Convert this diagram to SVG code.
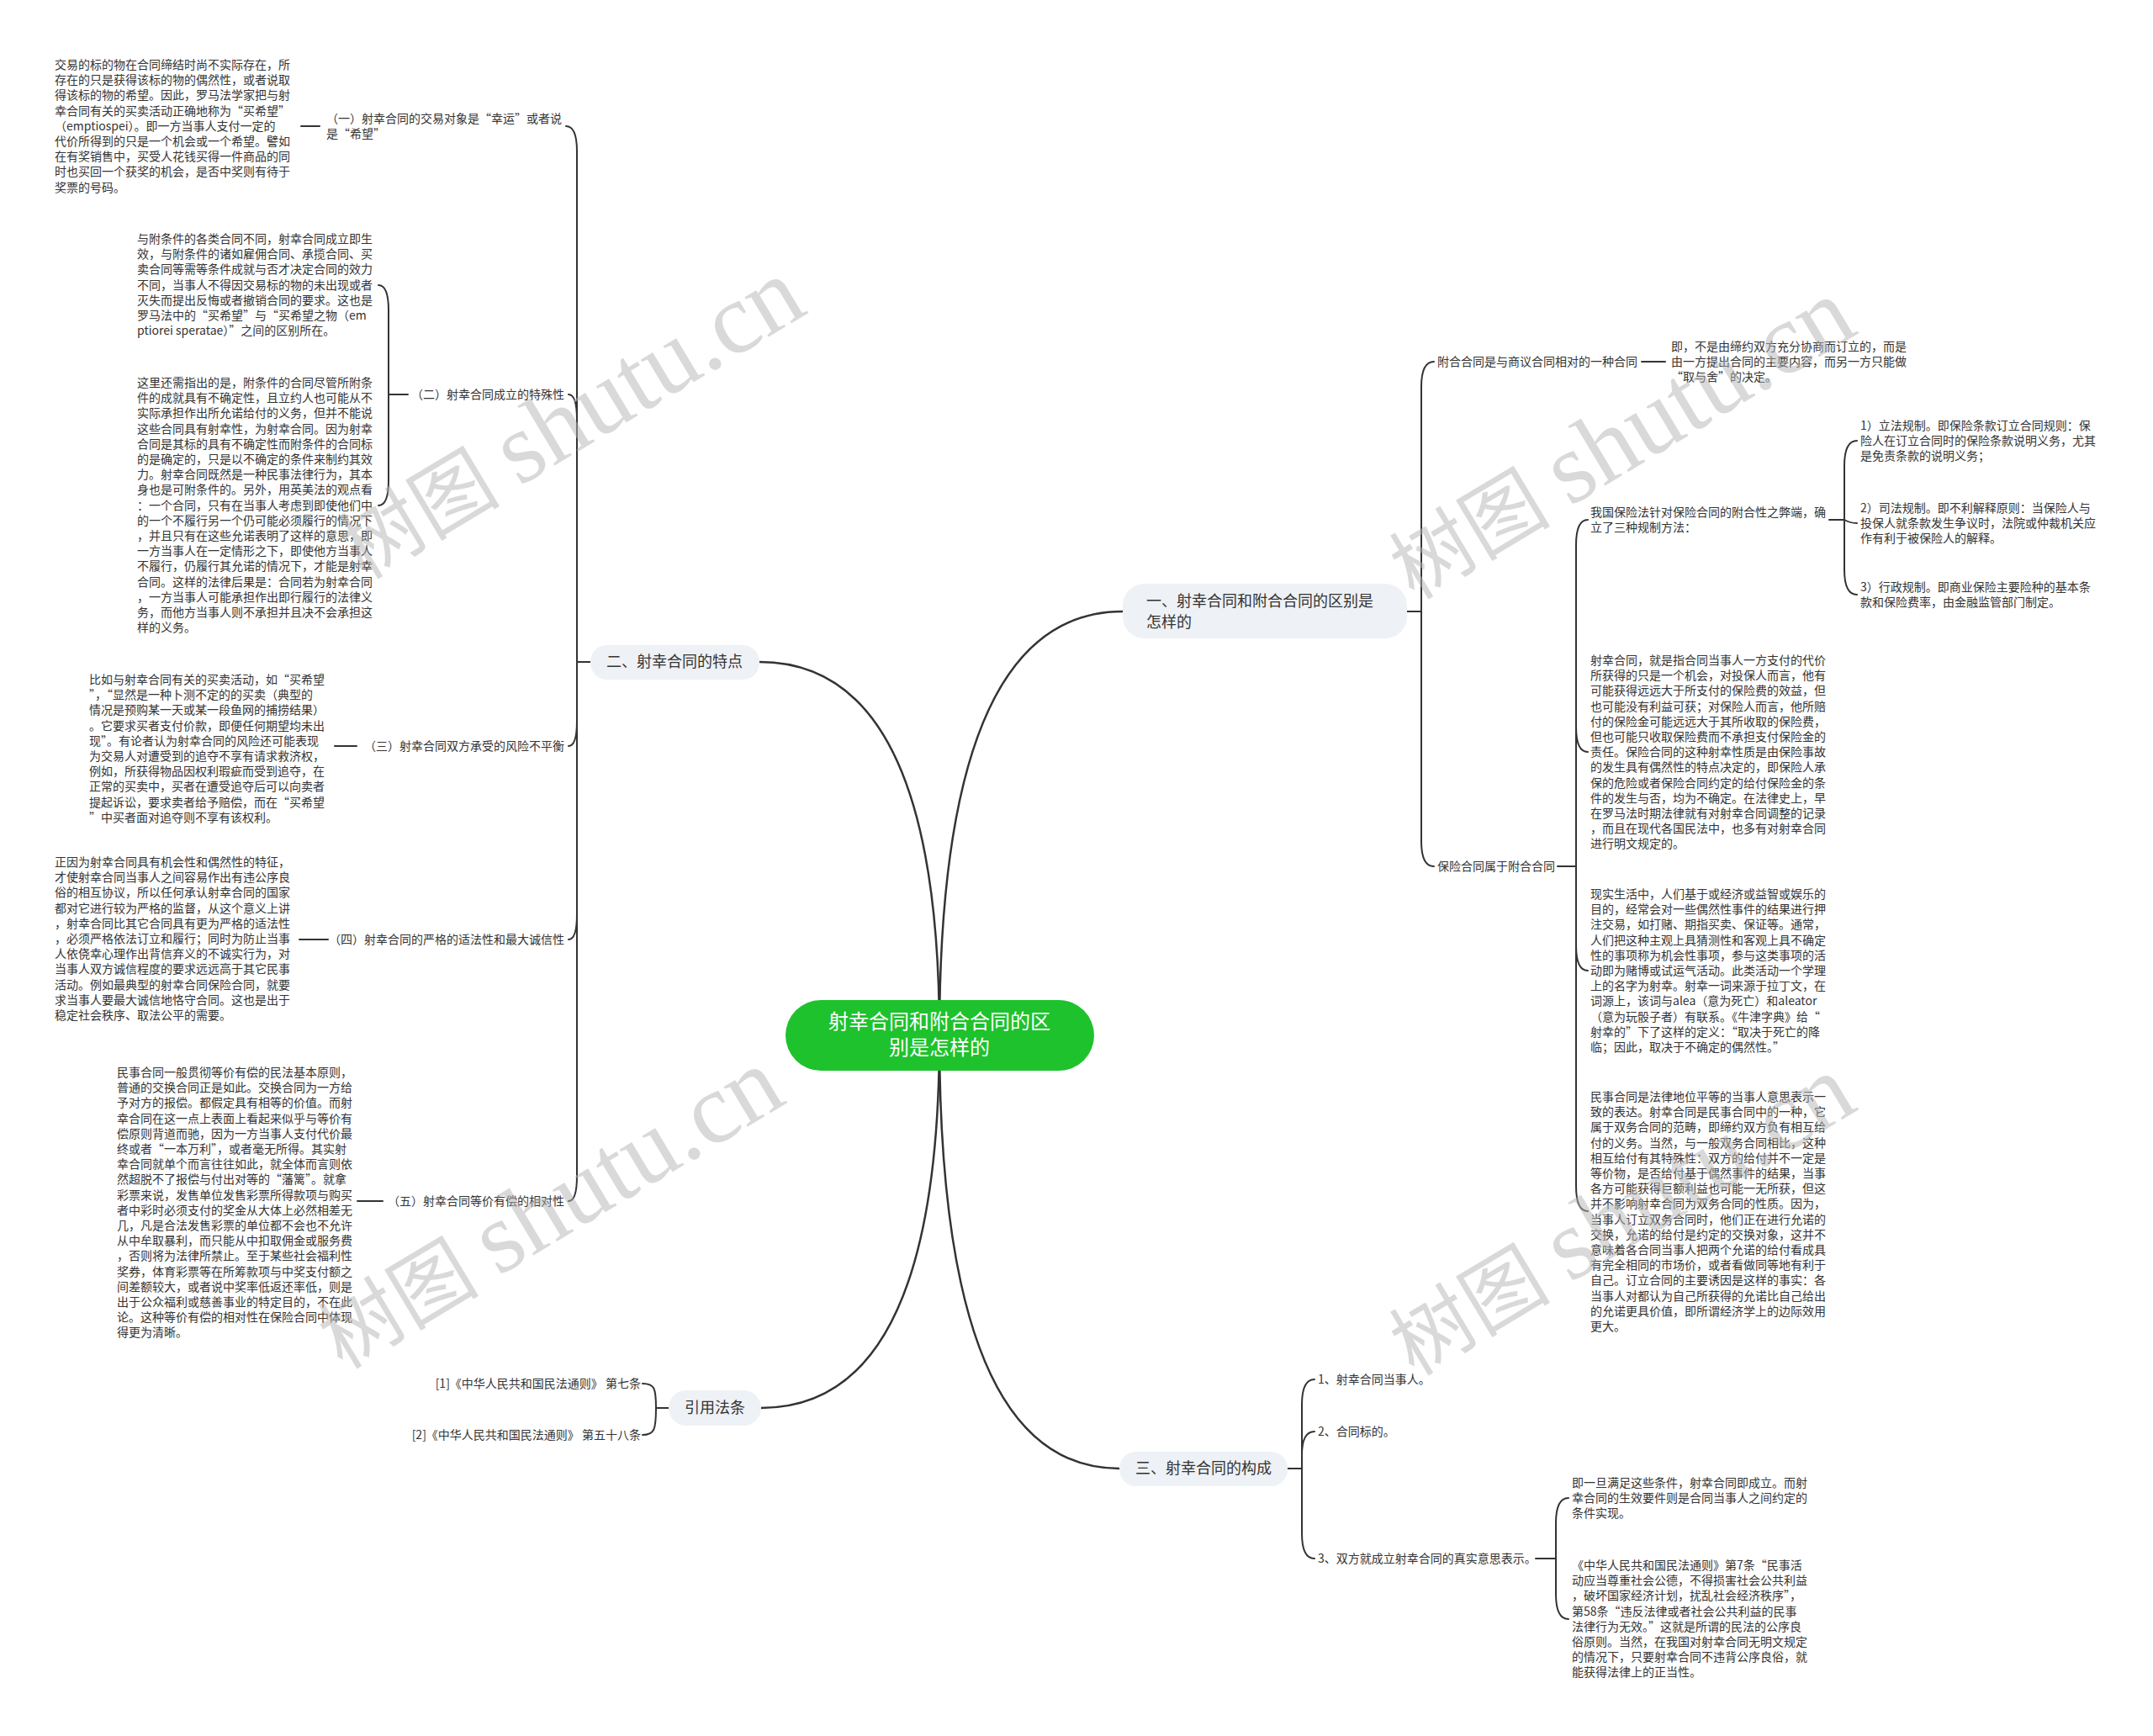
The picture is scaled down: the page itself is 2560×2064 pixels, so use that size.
<svg xmlns="http://www.w3.org/2000/svg" width="2560" height="2064" viewBox="0 0 2560 2064">
<style>
.t{font-family:"Noto Sans CJK SC","Noto Sans",sans-serif;font-size:14px;fill:#333}
.m{font-family:"Noto Sans CJK SC","Noto Sans",sans-serif;font-size:18px;fill:#333}
.r{font-family:"Noto Sans CJK SC","Noto Sans",sans-serif;font-size:24px;fill:#fff}
.nb{fill:#eef1f5}
.ln{fill:none;stroke:#333;stroke-width:2;stroke-linecap:round}
.lm{fill:none;stroke:#333;stroke-width:2.5}
.wm{font-family:"Liberation Serif","Noto Sans CJK SC",serif;fill:#b4b4b4;opacity:0.5}
</style>
<rect width="2560" height="2064" fill="#fff"/>
<g id="connectors">
<path class="lm" d="M1117,1231 Q1117,727 1335,727"/>
<path class="lm" d="M1117,1231 Q1117,787 903,787"/>
<path class="lm" d="M1117,1231 Q1117,1674 905,1674"/>
<path class="lm" d="M1117,1231 Q1117,1746 1331,1746"/>
<path class="ln" d="M702,787 H686 V180 Q686,150 673,150"/>
<path class="ln" d="M702,787 H686 V499 Q686,469 676,469"/>
<path class="ln" d="M702,787 H686 V857 Q686,887 676,887"/>
<path class="ln" d="M702,787 H686 V1087 Q686,1117 676,1117"/>
<path class="ln" d="M702,787 H686 V1398 Q686,1428 676,1428"/>
<path class="ln" d="M358,150 H380"/>
<path class="ln" d="M485,469 H462 V369 Q462,339 450,339"/>
<path class="ln" d="M462,469 V571 Q462,601 450,601"/>
<path class="ln" d="M398,887 H424"/>
<path class="ln" d="M356,1117 H390"/>
<path class="ln" d="M425,1428 H455"/>
<path class="ln" d="M795,1674 H780 C780,1650 778,1645 764,1645"/>
<path class="ln" d="M780,1674 C780,1700 778,1706 764,1706"/>
<path class="ln" d="M1673,727 H1690 V460 Q1690,430 1705,430"/>
<path class="ln" d="M1690,727 V1000 Q1690,1030 1705,1030"/>
<path class="ln" d="M1952,430 H1980"/>
<path class="ln" d="M1852,1030 H1874 V648 Q1874,618 1888,618"/>
<path class="ln" d="M1874,1030 V864 Q1874,894 1888,894"/>
<path class="ln" d="M1874,1030 V1124 Q1874,1154 1888,1154"/>
<path class="ln" d="M1874,1030 V1410 Q1874,1440 1888,1440"/>
<path class="ln" d="M2175,618 H2193 V554 Q2193,524 2208,524"/>
<path class="ln" d="M2193,618 Q2200,622 2208,622"/>
<path class="ln" d="M2193,618 V677 Q2193,707 2208,707"/>
<path class="ln" d="M1531,1746 H1548 V1670 Q1548,1640 1563,1640"/>
<path class="ln" d="M1548,1746 V1730 Q1548,1702 1563,1702"/>
<path class="ln" d="M1548,1746 V1823 Q1548,1853 1563,1853"/>
<path class="ln" d="M1826,1853 H1850 V1811 Q1850,1781 1865,1781"/>
<path class="ln" d="M1850,1853 V1895 Q1850,1925 1865,1925"/>
</g>
<g id="root">
<rect x="934" y="1189" width="367" height="84" rx="42" fill="#1ec22d"/>
<text class="r" text-anchor="middle"><tspan x="1117" y="1223">射幸合同和附合合同的区</tspan><tspan x="1117" y="1254">别是怎样的</tspan></text>
</g>
<g id="n1">
<rect class="nb" x="1335" y="694" width="338" height="65" rx="26"/>
<text class="m"><tspan x="1363" y="721">一、射幸合同和附合合同的区别是</tspan><tspan x="1363" y="746">怎样的</tspan></text>
</g>
<g id="n2">
<rect class="nb" x="702" y="767" width="201" height="41" rx="20"/>
<text class="m" x="802" y="793" text-anchor="middle">二、射幸合同的特点</text>
</g>
<g id="n3">
<rect class="nb" x="1331" y="1726" width="200" height="41" rx="20"/>
<text class="m" x="1431" y="1752" text-anchor="middle">三、射幸合同的构成</text>
</g>
<g id="n4">
<rect class="nb" x="795" y="1653" width="110" height="42" rx="21"/>
<text class="m" x="850" y="1680" text-anchor="middle">引用法条</text>
</g>
<g id="l1">
<text class="t"><tspan x="388" y="146">（一）射幸合同的交易对象是“幸运”或者说</tspan><tspan x="388" y="164">是“希望”</tspan></text>
</g>
<g id="b1">
<text class="t"><tspan x="65" y="82">交易的标的物在合同缔结时尚不实际存在，所</tspan><tspan x="65" dy="18.2">存在的只是获得该标的物的偶然性，或者说取</tspan><tspan x="65" dy="18.2">得该标的物的希望。因此，罗马法学家把与射</tspan><tspan x="65" dy="18.2">幸合同有关的买卖活动正确地称为“买希望”</tspan><tspan x="65" dy="18.2">（emptiospei）。即一方当事人支付一定的</tspan><tspan x="65" dy="18.2">代价所得到的只是一个机会或一个希望。譬如</tspan><tspan x="65" dy="18.2">在有奖销售中，买受人花钱买得一件商品的同</tspan><tspan x="65" dy="18.2">时也买回一个获奖的机会，是否中奖则有待于</tspan><tspan x="65" dy="18.2">奖票的号码。</tspan></text>
</g>
<g id="l2">
<text class="t" x="671" y="474" text-anchor="end">（二）射幸合同成立的特殊性</text>
</g>
<g id="b2">
<text class="t"><tspan x="163" y="289">与附条件的各类合同不同，射幸合同成立即生</tspan><tspan x="163" dy="18.2">效，与附条件的诸如雇佣合同、承揽合同、买</tspan><tspan x="163" dy="18.2">卖合同等需等条件成就与否才决定合同的效力</tspan><tspan x="163" dy="18.2">不同，当事人不得因交易标的物的未出现或者</tspan><tspan x="163" dy="18.2">灭失而提出反悔或者撤销合同的要求。这也是</tspan><tspan x="163" dy="18.2">罗马法中的“买希望”与“买希望之物（em</tspan><tspan x="163" dy="18.2">ptiorei speratae）”之间的区别所在。</tspan></text>
</g>
<g id="b3">
<text class="t"><tspan x="163" y="460">这里还需指出的是，附条件的合同尽管所附条</tspan><tspan x="163" dy="18.2">件的成就具有不确定性，且立约人也可能从不</tspan><tspan x="163" dy="18.2">实际承担作出所允诺给付的义务，但并不能说</tspan><tspan x="163" dy="18.2">这些合同具有射幸性，为射幸合同。因为射幸</tspan><tspan x="163" dy="18.2">合同是其标的具有不确定性而附条件的合同标</tspan><tspan x="163" dy="18.2">的是确定的，只是以不确定的条件来制约其效</tspan><tspan x="163" dy="18.2">力。射幸合同既然是一种民事法律行为，其本</tspan><tspan x="163" dy="18.2">身也是可附条件的。另外，用英美法的观点看</tspan><tspan x="163" dy="18.2">：一个合同，只有在当事人考虑到即使他们中</tspan><tspan x="163" dy="18.2">的一个不履行另一个仍可能必须履行的情况下</tspan><tspan x="163" dy="18.2">，并且只有在这些允诺表明了这样的意思，即</tspan><tspan x="163" dy="18.2">一方当事人在一定情形之下，即使他方当事人</tspan><tspan x="163" dy="18.2">不履行，仍履行其允诺的情况下，才能是射幸</tspan><tspan x="163" dy="18.2">合同。这样的法律后果是：合同若为射幸合同</tspan><tspan x="163" dy="18.2">，一方当事人可能承担作出即行履行的法律义</tspan><tspan x="163" dy="18.2">务，而他方当事人则不承担并且决不会承担这</tspan><tspan x="163" dy="18.2">样的义务。</tspan></text>
</g>
<g id="l3">
<text class="t" x="671" y="892" text-anchor="end">（三）射幸合同双方承受的风险不平衡</text>
</g>
<g id="b4">
<text class="t"><tspan x="106" y="813">比如与射幸合同有关的买卖活动，如“买希望</tspan><tspan x="106" dy="18.2">”，“显然是一种卜测不定的的买卖（典型的</tspan><tspan x="106" dy="18.2">情况是预购某一天或某一段鱼网的捕捞结果）</tspan><tspan x="106" dy="18.2">。它要求买者支付价款，即便任何期望均未出</tspan><tspan x="106" dy="18.2">现”。有论者认为射幸合同的风险还可能表现</tspan><tspan x="106" dy="18.2">为交易人对遭受到的追夺不享有请求救济权，</tspan><tspan x="106" dy="18.2">例如，所获得物品因权利瑕疵而受到追夺，在</tspan><tspan x="106" dy="18.2">正常的买卖中，买者在遭受追夺后可以向卖者</tspan><tspan x="106" dy="18.2">提起诉讼，要求卖者给予赔偿，而在“买希望</tspan><tspan x="106" dy="18.2">”中买者面对追夺则不享有该权利。</tspan></text>
</g>
<g id="l4">
<text class="t" x="671" y="1122" text-anchor="end">（四）射幸合同的严格的适法性和最大诚信性</text>
</g>
<g id="b5">
<text class="t"><tspan x="65" y="1030">正因为射幸合同具有机会性和偶然性的特征，</tspan><tspan x="65" dy="18.2">才使射幸合同当事人之间容易作出有违公序良</tspan><tspan x="65" dy="18.2">俗的相互协议，所以任何承认射幸合同的国家</tspan><tspan x="65" dy="18.2">都对它进行较为严格的监督，从这个意义上讲</tspan><tspan x="65" dy="18.2">，射幸合同比其它合同具有更为严格的适法性</tspan><tspan x="65" dy="18.2">，必须严格依法订立和履行；同时为防止当事</tspan><tspan x="65" dy="18.2">人依侥幸心理作出背信弃义的不诚实行为，对</tspan><tspan x="65" dy="18.2">当事人双方诚信程度的要求远远高于其它民事</tspan><tspan x="65" dy="18.2">活动。例如最典型的射幸合同保险合同，就要</tspan><tspan x="65" dy="18.2">求当事人要最大诚信地恪守合同。这也是出于</tspan><tspan x="65" dy="18.2">稳定社会秩序、取法公平的需要。</tspan></text>
</g>
<g id="l5">
<text class="t" x="671" y="1433" text-anchor="end">（五）射幸合同等价有偿的相对性</text>
</g>
<g id="b6">
<text class="t"><tspan x="139" y="1280">民事合同一般贯彻等价有偿的民法基本原则，</tspan><tspan x="139" dy="18.2">普通的交换合同正是如此。交换合同为一方给</tspan><tspan x="139" dy="18.2">予对方的报偿。都假定具有相等的价值。而射</tspan><tspan x="139" dy="18.2">幸合同在这一点上表面上看起来似乎与等价有</tspan><tspan x="139" dy="18.2">偿原则背道而驰，因为一方当事人支付代价最</tspan><tspan x="139" dy="18.2">终或者“一本万利”，或者毫无所得。其实射</tspan><tspan x="139" dy="18.2">幸合同就单个而言往往如此，就全体而言则依</tspan><tspan x="139" dy="18.2">然超脱不了报偿与付出对等的“藩篱”。就拿</tspan><tspan x="139" dy="18.2">彩票来说，发售单位发售彩票所得款项与购买</tspan><tspan x="139" dy="18.2">者中彩时必须支付的奖金从大体上必然相差无</tspan><tspan x="139" dy="18.2">几，凡是合法发售彩票的单位都不会也不允许</tspan><tspan x="139" dy="18.2">从中牟取暴利，而只能从中扣取佣金或服务费</tspan><tspan x="139" dy="18.2">，否则将为法律所禁止。至于某些社会福利性</tspan><tspan x="139" dy="18.2">奖券，体育彩票等在所筹款项与中奖支付额之</tspan><tspan x="139" dy="18.2">间差额较大，或者说中奖率低返还率低，则是</tspan><tspan x="139" dy="18.2">出于公众福利或慈善事业的特定目的，不在此</tspan><tspan x="139" dy="18.2">论。这种等价有偿的相对性在保险合同中体现</tspan><tspan x="139" dy="18.2">得更为清晰。</tspan></text>
</g>
<g id="ref1"><text class="t" x="762" y="1650" text-anchor="end">[1]《中华人民共和国民法通则》 第七条</text></g>
<g id="ref2"><text class="t" x="762" y="1711" text-anchor="end">[2]《中华人民共和国民法通则》 第五十八条</text></g>
<g id="r1">
<text class="t" x="1709" y="435">附合合同是与商议合同相对的一种合同</text>
</g>
<g id="r1a">
<text class="t"><tspan x="1987" y="417">即，不是由缔约双方充分协商而订立的，而是</tspan><tspan x="1987" dy="18.2">由一方提出合同的主要内容，而另一方只能做</tspan><tspan x="1987" dy="18.2">“取与舍”的决定。</tspan></text>
</g>
<g id="r2">
<text class="t" x="1709" y="1035">保险合同属于附合合同</text>
</g>
<g id="r2a">
<text class="t"><tspan x="1891" y="614">我国保险法针对保险合同的附合性之弊端，确</tspan><tspan x="1891" dy="18.2">立了三种规制方法：</tspan></text>
</g>
<g id="r2a1">
<text class="t"><tspan x="2212" y="511">1）立法规制。即保险条款订立合同规则：保</tspan><tspan x="2212" dy="18.2">险人在订立合同时的保险条款说明义务，尤其</tspan><tspan x="2212" dy="18.2">是免责条款的说明义务；</tspan></text>
</g>
<g id="r2a2">
<text class="t"><tspan x="2212" y="609">2）司法规制。即不利解释原则：当保险人与</tspan><tspan x="2212" dy="18.2">投保人就条款发生争议时，法院或仲裁机关应</tspan><tspan x="2212" dy="18.2">作有利于被保险人的解释。</tspan></text>
</g>
<g id="r2a3">
<text class="t"><tspan x="2212" y="703">3）行政规制。即商业保险主要险种的基本条</tspan><tspan x="2212" dy="18.2">款和保险费率，由金融监管部门制定。</tspan></text>
</g>
<g id="r2b">
<text class="t"><tspan x="1891" y="790">射幸合同，就是指合同当事人一方支付的代价</tspan><tspan x="1891" dy="18.2">所获得的只是一个机会，对投保人而言，他有</tspan><tspan x="1891" dy="18.2">可能获得远远大于所支付的保险费的效益，但</tspan><tspan x="1891" dy="18.2">也可能没有利益可获；对保险人而言，他所赔</tspan><tspan x="1891" dy="18.2">付的保险金可能远远大于其所收取的保险费，</tspan><tspan x="1891" dy="18.2">但也可能只收取保险费而不承担支付保险金的</tspan><tspan x="1891" dy="18.2">责任。保险合同的这种射幸性质是由保险事故</tspan><tspan x="1891" dy="18.2">的发生具有偶然性的特点决定的，即保险人承</tspan><tspan x="1891" dy="18.2">保的危险或者保险合同约定的给付保险金的条</tspan><tspan x="1891" dy="18.2">件的发生与否，均为不确定。在法律史上，早</tspan><tspan x="1891" dy="18.2">在罗马法时期法律就有对射幸合同调整的记录</tspan><tspan x="1891" dy="18.2">，而且在现代各国民法中，也多有对射幸合同</tspan><tspan x="1891" dy="18.2">进行明文规定的。</tspan></text>
</g>
<g id="r2c">
<text class="t"><tspan x="1891" y="1068">现实生活中，人们基于或经济或益智或娱乐的</tspan><tspan x="1891" dy="18.2">目的，经常会对一些偶然性事件的结果进行押</tspan><tspan x="1891" dy="18.2">注交易，如打赌、期指买卖、保证等。通常，</tspan><tspan x="1891" dy="18.2">人们把这种主观上具猜测性和客观上具不确定</tspan><tspan x="1891" dy="18.2">性的事项称为机会性事项，参与这类事项的活</tspan><tspan x="1891" dy="18.2">动即为赌博或试运气活动。此类活动一个学理</tspan><tspan x="1891" dy="18.2">上的名字为射幸。射幸一词来源于拉丁文，在</tspan><tspan x="1891" dy="18.2">词源上，该词与alea（意为死亡）和aleator</tspan><tspan x="1891" dy="18.2">（意为玩骰子者）有联系。《牛津字典》给“</tspan><tspan x="1891" dy="18.2">射幸的”下了这样的定义：“取决于死亡的降</tspan><tspan x="1891" dy="18.2">临；因此，取决于不确定的偶然性。”</tspan></text>
</g>
<g id="r2d">
<text class="t"><tspan x="1891" y="1309">民事合同是法律地位平等的当事人意思表示一</tspan><tspan x="1891" dy="18.2">致的表达。射幸合同是民事合同中的一种，它</tspan><tspan x="1891" dy="18.2">属于双务合同的范畴，即缔约双方负有相互给</tspan><tspan x="1891" dy="18.2">付的义务。当然，与一般双务合同相比，这种</tspan><tspan x="1891" dy="18.2">相互给付有其特殊性：双方的给付并不一定是</tspan><tspan x="1891" dy="18.2">等价物，是否给付基于偶然事件的结果，当事</tspan><tspan x="1891" dy="18.2">各方可能获得巨额利益也可能一无所获，但这</tspan><tspan x="1891" dy="18.2">并不影响射幸合同为双务合同的性质。因为，</tspan><tspan x="1891" dy="18.2">当事人订立双务合同时，他们正在进行允诺的</tspan><tspan x="1891" dy="18.2">交换，允诺的给付是约定的交换对象，这并不</tspan><tspan x="1891" dy="18.2">意味着各合同当事人把两个允诺的给付看成具</tspan><tspan x="1891" dy="18.2">有完全相同的市场价，或者看做同等地有利于</tspan><tspan x="1891" dy="18.2">自己。订立合同的主要诱因是这样的事实：各</tspan><tspan x="1891" dy="18.2">当事人对都认为自己所获得的允诺比自己给出</tspan><tspan x="1891" dy="18.2">的允诺更具价值，即所谓经济学上的边际效用</tspan><tspan x="1891" dy="18.2">更大。</tspan></text>
</g>
<g id="s1"><text class="t" x="1567" y="1645">1、射幸合同当事人。</text></g>
<g id="s2"><text class="t" x="1567" y="1707">2、合同标的。</text></g>
<g id="s3"><text class="t" x="1567" y="1858">3、双方就成立射幸合同的真实意思表示。</text></g>
<g id="s3a">
<text class="t"><tspan x="1869" y="1768">即一旦满足这些条件，射幸合同即成立。而射</tspan><tspan x="1869" dy="18.2">幸合同的生效要件则是合同当事人之间约定的</tspan><tspan x="1869" dy="18.2">条件实现。</tspan></text>
</g>
<g id="s3b">
<text class="t"><tspan x="1869" y="1866">《中华人民共和国民法通则》第7条“民事活</tspan><tspan x="1869" dy="18.2">动应当尊重社会公德，不得损害社会公共利益</tspan><tspan x="1869" dy="18.2">，破坏国家经济计划，扰乱社会经济秩序”，</tspan><tspan x="1869" dy="18.2">第58条“违反法律或者社会公共利益的民事</tspan><tspan x="1869" dy="18.2">法律行为无效。”这就是所谓的民法的公序良</tspan><tspan x="1869" dy="18.2">俗原则。当然，在我国对射幸合同无明文规定</tspan><tspan x="1869" dy="18.2">的情况下，只要射幸合同不违背公序良俗，就</tspan><tspan x="1869" dy="18.2">能获得法律上的正当性。</tspan></text>
</g>
<g id="watermarks">
<text class="wm" transform="translate(678,498) rotate(-31)" x="0" y="38" text-anchor="middle"><tspan font-size="96">树图 </tspan><tspan font-size="120">shutu.cn</tspan></text>
<text class="wm" transform="translate(1927,522) rotate(-31)" x="0" y="38" text-anchor="middle"><tspan font-size="96">树图 </tspan><tspan font-size="120">shutu.cn</tspan></text>
<text class="wm" transform="translate(653,1437) rotate(-31)" x="0" y="38" text-anchor="middle"><tspan font-size="96">树图 </tspan><tspan font-size="120">shutu.cn</tspan></text>
<text class="wm" transform="translate(1927,1445) rotate(-31)" x="0" y="38" text-anchor="middle"><tspan font-size="96">树图 </tspan><tspan font-size="120">shutu.cn</tspan></text>
</g>
</svg>
